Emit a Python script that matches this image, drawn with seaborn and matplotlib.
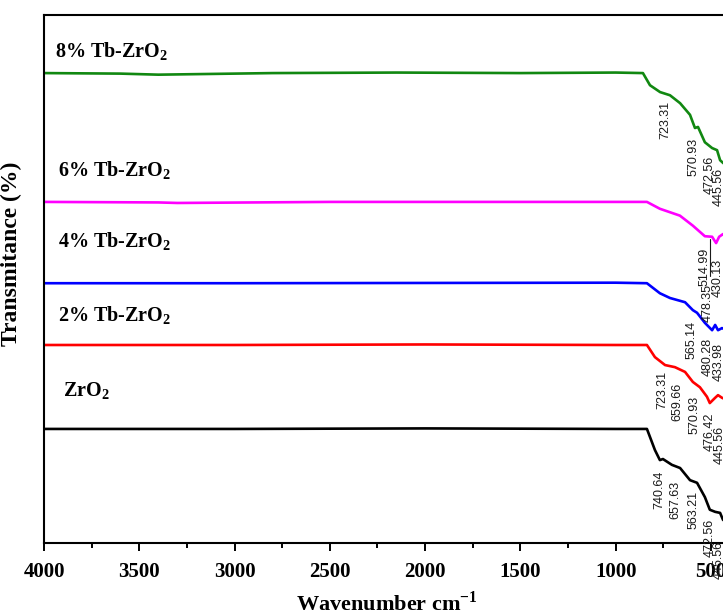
import pandas as pd
import seaborn as sns
import matplotlib.pyplot as plt
from matplotlib.ticker import MultipleLocator

# --------------------------------------------------
# Data (offset transmittance)
# --------------------------------------------------

samples = ["8% Tb-ZrO2", "6% Tb-ZrO2", "4% Tb-ZrO2", "2% Tb-ZrO2", "ZrO2"]

wn_8 = [4000, 3600, 3400, 3200, 2800, 2150, 1500, 1000, 857, 820, 767, 715,
        662, 610, 584, 568, 532, 494, 468, 452, 437, 430]
tr_8 = [89.0, 88.9, 88.7, 88.8, 89.0, 89.1, 89.0, 89.1, 89.0, 86.7, 85.4, 84.8,
        83.3, 81.1, 78.6, 78.8, 75.9, 74.8, 74.4, 72.5, 72.0, 71.8]

wn_6 = [4000, 3400, 3300, 2500, 1000, 836, 768, 663, 595, 532, 494, 473,
        457, 437, 430]
tr_6 = [64.6, 64.5, 64.4, 64.6, 64.6, 64.6, 63.3, 62.0, 60.1, 58.1, 58.0, 56.8,
        58.0, 58.5, 58.4]

wn_4 = [4000, 3000, 2000, 1000, 836, 768, 715, 636, 595, 573, 532, 494,
        478, 463, 442, 430]
tr_4 = [49.2, 49.2, 49.25, 49.3, 49.2, 47.3, 46.4, 45.6, 44.1, 43.6, 41.7, 40.3,
        41.3, 40.3, 40.7, 40.5]

wn_2 = [4000, 3000, 2000, 1000, 836, 794, 741, 689, 636, 595, 558, 521,
        506, 478, 463, 442, 430]
tr_2 = [37.5, 37.5, 37.6, 37.5, 37.5, 35.2, 33.7, 33.3, 32.4, 30.5, 29.5, 27.7,
        26.5, 27.5, 28.0, 27.5, 27.3]

wn_0 = [4000, 3000, 2000, 1000, 836, 794, 768, 752, 705, 662, 610, 573,
        532, 506, 478, 452, 437, 430]
tr_0 = [21.6, 21.6, 21.7, 21.6, 21.6, 17.6, 15.7, 15.9, 14.8, 14.2, 11.9, 11.4,
        8.7, 6.3, 5.9, 5.7, 4.4, 4.2]

# peak labels
peaks_8 = ["723.31", "570.93", "472.56", "445.56"]
peaks_6 = ["514.99", "478.35", "430.13"]
peaks_4 = ["565.14", "480.28", "433.98"]
peaks_2 = ["723.31", "659.66", "570.93", "476.42", "445.56"]
peaks_0 = ["740.64", "657.63", "563.21", "472.56", "445.56"]

frames = []
for name, wn, tr in zip(samples, [wn_8, wn_6, wn_4, wn_2, wn_0],
                        [tr_8, tr_6, tr_4, tr_2, tr_0]):
    frames.append(pd.DataFrame({"wavenumber": wn, "T": tr, "sample": name}))
df = pd.concat(frames, ignore_index=True)

colors = ["#118811", "#ff00ff", "#0000ff", "#ff0000", "#000000"]

# --------------------------------------------------
# Plot
# --------------------------------------------------

sns.set_style("ticks")
plt.rcParams["font.family"] = ["Liberation Serif", "DejaVu Serif"]
plt.rcParams["text.color"] = "black"
plt.rcParams["mathtext.fontset"] = "custom"
plt.rcParams["mathtext.rm"] = "Liberation Serif"
plt.rcParams["mathtext.bf"] = "Liberation Serif:bold"

fig = plt.figure(figsize=(7.23, 6.15), dpi=100)
ax = fig.add_axes([0.0609, 0.1171, 0.9488, 0.8585])

sns.lineplot(
    data=df,
    x="wavenumber",
    y="T",
    hue="sample",
    palette=colors,
    linewidth=1.9,
    sort=False,
    legend=False,
    ax=ax
)

ax.set_xlim(4000, 400)
ax.set_ylim(0, 100)

ax.xaxis.set_minor_locator(MultipleLocator(250))
ax.set_xticks(range(4000, 499, -500))
ax.tick_params(axis="x", which="major", length=6, width=1.4,
               labelsize=15, pad=8, colors="black")
ax.tick_params(axis="x", which="minor", length=3.5, width=1.4,
               colors="black")
for lab in ax.get_xticklabels():
    lab.set_fontweight("bold")
ax.set_yticks([])

for sp in ax.spines.values():
    sp.set_linewidth(1.5)
    sp.set_color("black")

ax.set_xlabel("Wavenumber cm$^{\\mathbf{-1}}$", fontsize=16,
              fontweight="bold", labelpad=6, color="black")
ax.set_ylabel("Transmitance (%)", fontsize=17, fontweight="bold",
              color="black")
ax.yaxis.set_label_coords(-0.032, 0.547)

# sample names
name_text = ["8% Tb-ZrO$_\\mathbf{2}$", "6% Tb-ZrO$_\\mathbf{2}$",
             "4% Tb-ZrO$_\\mathbf{2}$", "2% Tb-ZrO$_\\mathbf{2}$",
             "ZrO$_\\mathbf{2}$"]
name_x = [3942, 3927, 3927, 3927, 3900]
name_y = [92.0, 69.3, 55.9, 41.9, 27.7]
for txt, x, y in zip(name_text, name_x, name_y):
    ax.text(x, y, txt, fontsize=14.5, fontweight="bold",
            ha="left", va="baseline", color="black")

# peak label placement (label centre, in data units)
label_pos = [
    (peaks_8, [741, 589, 505, 458], [80.1, 73.1, 69.7, 67.4]),
    (peaks_6, [532, 516, 463], [52.3, 45.5, 50.2]),
    (peaks_4, [600, 516, 458], [38.4, 35.2, 34.3]),
    (peaks_2, [757, 678, 584, 505, 453], [29.0, 26.7, 24.2, 21.0, 18.6]),
    (peaks_0, [773, 689, 594, 505, 458], [10.0, 8.1, 6.3, 0.9, -3.2]),
]
for labels, xs, ys in label_pos:
    for txt, x, y in zip(labels, xs, ys):
        ax.text(x, y, txt, rotation=90, ha="center", va="center",
                fontsize=9, color="#1a1a1a",
                family=["Liberation Sans", "DejaVu Sans"])

# leader from the 6% curve down to its 514.99 label
ax.plot([505, 505], [57.6, 50.6], color="#1a1a1a", linewidth=0.8)

fig.savefig("out.png", dpi=100)
